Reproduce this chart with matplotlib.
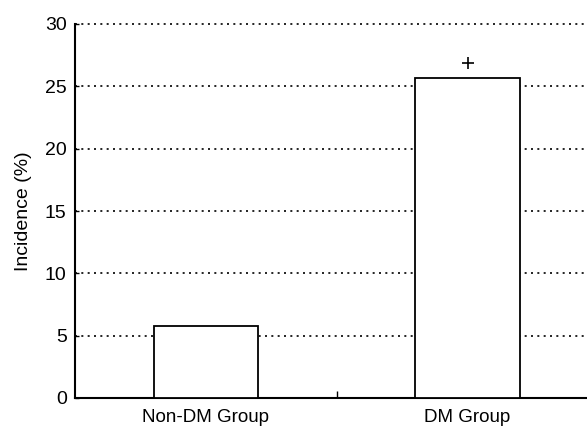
import matplotlib
matplotlib.use("Agg")
import matplotlib.pyplot as plt

categories = ["Non-DM Group", "DM Group"]
incidence = [5.8, 25.65]
sig_marker_y = [26.9]
sig_marker_cat = [1]
y_ticks = [0, 5, 10, 15, 20, 25, 30]

plt.rcParams['font.family'] = ['Liberation Sans', 'DejaVu Sans']

fig = plt.figure(figsize=(5.87, 4.32), dpi=100)
ax = fig.add_axes([75/587, 34/432, 523.5/587, 374/432])

x = [i + 1 for i in range(len(categories))]
ax.bar(x, incidence, width=0.4, color='white', edgecolor='black', linewidth=1.3, zorder=3)
ax.plot([x[i] for i in sig_marker_cat], sig_marker_y, marker='+', color='black',
        markersize=9, markeredgewidth=1.2, linestyle='none', zorder=4)

ax.set_xlim(0.5, 2.5)
ax.set_ylim(0, 30)
ax.set_yticks(y_ticks)
ax.set_yticklabels([str(t) for t in y_ticks], fontsize=14)
ax.set_xticks(x)
ax.set_xticklabels(categories, fontsize=13.5)
ax.set_xticks([1.5], minor=True)
ax.tick_params(axis='x', which='major', length=0, pad=8)
ax.tick_params(axis='x', which='minor', direction='in', length=5, width=1)
ax.tick_params(axis='y', direction='in', length=3, width=1, pad=6)
ax.set_ylabel("Incidence (%)", fontsize=14, labelpad=9)

ax.yaxis.grid(True, linestyle=(0, (1.2, 2.6)), color='black', linewidth=1.2, zorder=0)
for gl in ax.get_ygridlines():
    gl.set_clip_on(False)
ax.set_axisbelow(True)
for s in ['top', 'right']:
    ax.spines[s].set_visible(False)
ax.spines['left'].set_linewidth(1.5)
ax.spines['bottom'].set_linewidth(1.5)

fig.savefig("out.png", dpi=100)
